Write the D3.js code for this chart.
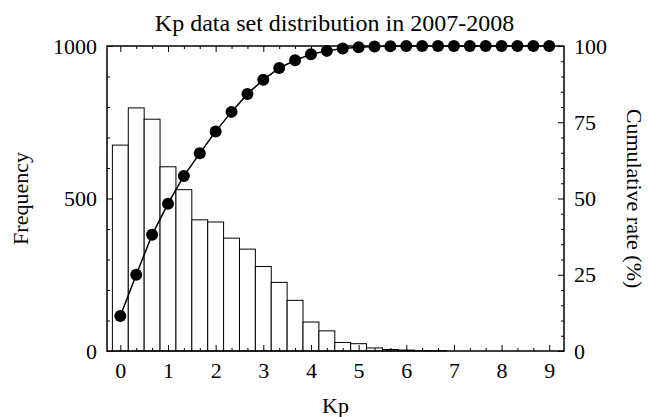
<!DOCTYPE html>
<html>
<head>
<meta charset="utf-8">
<script src="https://cdn.jsdelivr.net/npm/d3@7"></script>
<style>
  html, body { margin: 0; padding: 0; background: #fff; }
  svg { display: block; }
  text { font-family: "Liberation Serif", "Times New Roman", serif; fill: #000; }
</style>
</head>
<body>
<svg id="chart" width="649" height="417"></svg>
<script>
// Kp bins (thirds of a unit: 0, 0+, 1-, 1o, ...)
const kpValues = d3.range(0, 28).map(i => i / 3);
// Number of samples in each Kp bin
const frequency = [675, 797, 760, 604, 529, 430, 423, 370, 334, 277, 225, 166, 95, 66,
                   28, 24, 10, 5, 3, 1, 1, 0, 0, 0, 0, 0, 0, 0];
// Cumulative rate (%) at each Kp bin
const cumulative = [11.5, 25.0, 38.1, 48.3, 57.4, 64.8, 72.0, 78.4, 84.3, 88.9, 92.8, 95.3,
                    97.3, 98.4, 99.2, 99.6, 99.8, 99.9, 100, 100, 100, 100, 100, 100, 100, 100, 100, 100];
const xTicks = [0, 1, 2, 3, 4, 5, 6, 7, 8, 9];
const leftTicks = [0, 500, 1000];
const rightTicks = [0, 25, 50, 75, 100];

const svg = d3.select("#chart");
const L = 107, R = 564, T = 46, B = 351;

const x = d3.scaleLinear().domain([-0.28, 9.31]).range([L, R]);
const yL = d3.scaleLinear().domain([0, 1000]).range([B, T]);
const yR = d3.scaleLinear().domain([0, 100]).range([B, T]);
const binW = x(1 / 3) - x(0);

// Histogram bars
svg.append("g").selectAll("rect")
  .data(kpValues.map((k, i) => ({ k, v: frequency[i] })).filter(d => d.v > 0))
  .join("rect")
  .attr("x", d => x(d.k) - binW / 2)
  .attr("width", binW)
  .attr("y", d => yL(d.v))
  .attr("height", d => B - yL(d.v))
  .attr("fill", "#fff")
  .attr("stroke", "#000")
  .attr("stroke-width", 1);

// Cumulative curve
const pts = kpValues.map((k, i) => [k, cumulative[i]]);
svg.append("path")
  .datum(pts)
  .attr("fill", "none")
  .attr("stroke", "#000")
  .attr("stroke-width", 1.5)
  .attr("d", d3.line().x(d => x(d[0])).y(d => yR(d[1])));

svg.append("g").selectAll("circle")
  .data(pts)
  .join("circle")
  .attr("cx", d => x(d[0]))
  .attr("cy", d => yR(d[1]))
  .attr("r", 6)
  .attr("fill", "#000");

// Axes with inward ticks
const minorX = d3.range(0, 28).map(i => i / 3).filter(v => Math.abs(v - Math.round(v)) > 1e-6);
function styleAxis(g) {
  g.select(".domain").remove();
  g.selectAll(".tick line").attr("stroke", "#000").attr("stroke-width", 1);
  g.selectAll(".tick text").style("font-size", "22px").style("font-family", "'Liberation Serif', serif");
}

svg.append("g").attr("transform", `translate(0,${B})`)
  .call(d3.axisBottom(x).tickValues(xTicks).tickSizeInner(-6).tickSizeOuter(0).tickPadding(11).tickFormat(d3.format("d")))
  .call(styleAxis);
svg.append("g").attr("transform", `translate(0,${B})`)
  .call(d3.axisBottom(x).tickValues(minorX).tickSizeInner(-3).tickSizeOuter(0).tickFormat(""))
  .call(styleAxis);
svg.append("g").attr("transform", `translate(0,${T})`)
  .call(d3.axisTop(x).tickValues(xTicks).tickSizeInner(-6).tickSizeOuter(0).tickFormat(""))
  .call(styleAxis);
svg.append("g").attr("transform", `translate(0,${T})`)
  .call(d3.axisTop(x).tickValues(minorX).tickSizeInner(-3).tickSizeOuter(0).tickFormat(""))
  .call(styleAxis);

svg.append("g").attr("transform", `translate(${L},0)`)
  .call(d3.axisLeft(yL).tickValues(leftTicks).tickSizeInner(-6).tickSizeOuter(0).tickPadding(10).tickFormat(d3.format("d")))
  .call(styleAxis);
svg.append("g").attr("transform", `translate(${L},0)`)
  .call(d3.axisLeft(yL).tickValues(d3.range(100, 1000, 100).filter(v => v !== 500)).tickSizeInner(-3).tickSizeOuter(0).tickFormat(""))
  .call(styleAxis);

svg.append("g").attr("transform", `translate(${R},0)`)
  .call(d3.axisRight(yR).tickValues(rightTicks).tickSizeInner(-6).tickSizeOuter(0).tickPadding(10).tickFormat(d3.format("d")))
  .call(styleAxis);
svg.append("g").attr("transform", `translate(${R},0)`)
  .call(d3.axisRight(yR).tickValues(d3.range(5, 100, 5).filter(v => v % 25 !== 0)).tickSizeInner(-3).tickSizeOuter(0).tickFormat(""))
  .call(styleAxis);

// Frame
svg.append("rect")
  .attr("x", L).attr("y", T).attr("width", R - L).attr("height", B - T)
  .attr("fill", "none").attr("stroke", "#000").attr("stroke-width", 1.5);

// Titles
svg.append("text").attr("x", (L + R) / 2 - 1).attr("y", 31)
  .attr("text-anchor", "middle").style("font-size", "24px")
  .text("Kp data set distribution in 2007-2008");
svg.append("text").attr("x", (L + R) / 2).attr("y", 413)
  .attr("text-anchor", "middle").style("font-size", "22px")
  .text("Kp");
svg.append("text").attr("transform", `translate(28,${(T + B) / 2}) rotate(-90)`)
  .attr("text-anchor", "middle").style("font-size", "22px")
  .text("Frequency");
svg.append("text").attr("transform", `translate(627,${(T + B) / 2}) rotate(90)`)
  .attr("text-anchor", "middle").style("font-size", "22px")
  .text("Cumulative rate (%)");
</script>
</body>
</html>
